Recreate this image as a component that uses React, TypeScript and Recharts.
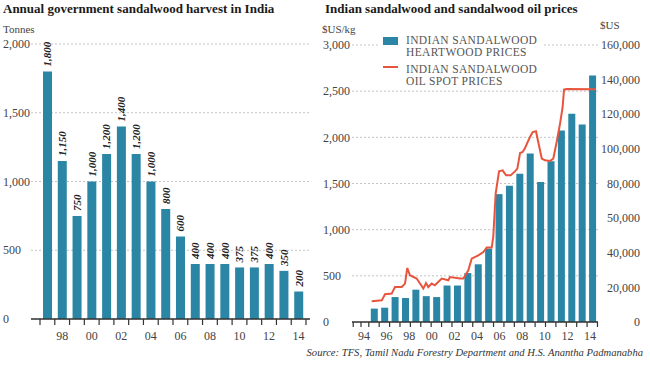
import React from 'react';
import {
  Bar,
  BarChart,
  CartesianGrid,
  ComposedChart,
  LabelList,
  Line,
  XAxis,
  YAxis,
} from 'recharts';

// Left: annual harvest (tonnes)
const HARVEST_YEARS = [
  1997, 1998, 1999, 2000, 2001, 2002, 2003, 2004, 2005, 2006, 2007, 2008, 2009, 2010, 2011, 2012, 2013, 2014,
];
const HARVEST_TONNES = [1800, 1150, 750, 1000, 1200, 1400, 1200, 1000, 800, 600, 400, 400, 400, 375, 375, 400, 350, 200];
const HARVEST_TICKS = [0, 500, 1000, 1500, 2000];
const HARVEST_LABEL_YEARS = [1998, 2000, 2002, 2004, 2006, 2008, 2010, 2012, 2014];

// Right: heartwood prices ($US/kg) and oil spot prices ($US)
const HEARTWOOD_YEARS = [
  1993, 1994, 1995, 1996, 1997, 1998, 1999, 2000, 2001, 2002, 2003, 2004, 2005, 2006, 2007, 2008, 2009, 2010,
  2011, 2012, 2013, 2014,
];
const HEARTWOOD_PRICES = [
  145, 155, 270, 260, 350, 280, 270, 395, 395, 530, 625, 795, 1385, 1475, 1605, 1825, 1515, 1740, 2075, 2255, 2140,
  2670,
];
const OIL_DATES = [
  1994.68, 1995.57, 1995.86, 1996.45, 1996.74, 1997.34, 1997.63, 1997.83, 1998.07, 1998.66, 1999.25, 1999.49,
  1999.69, 1999.99, 2000.27, 2000.88, 2001.46, 2001.61, 2002.5, 2002.79, 2003.23, 2003.53, 2004.12, 2004.56,
  2004.86, 2005.3, 2005.44, 2005.65, 2005.95, 2006.27, 2006.57, 2006.98, 2007.36, 2007.57, 2007.81, 2008.04,
  2008.25, 2008.69, 2008.93, 2009.22, 2009.42, 2009.73, 2010.02, 2010.46, 2010.75, 2011.05, 2011.35, 2011.58,
  2011.7, 2011.94, 2014.53,
];
const OIL_PRICES = [
  12000, 12500, 16000, 16400, 20200, 20200, 22200, 31200, 27000, 25100, 19300, 22500, 20200, 22200, 21200, 25100,
  24100, 26000, 25100, 25100, 29900, 36600, 38500, 40400, 43000, 43000, 49100, 74200, 87000, 87600, 84700, 84700,
  87000, 88600, 97600, 98200, 100500, 106900, 109700, 110200, 104000, 94400, 93400, 93000, 94400, 104000, 114600,
  124200, 134200, 134600, 134400,
];
const PRICE_TICKS = [0, 500, 1000, 1500, 2000, 2500, 3000];
const OIL_TICKS = [0, 20000, 40000, 60000, 80000, 100000, 120000, 140000, 160000];
const OIL_TICK_LABELS = ['0', '20,000', '40,000', '50,000', '80,000', '100,000', '120,000', '140,000', '160,000'];
const PRICE_LABEL_YEARS = [1994, 1996, 1998, 2000, 2002, 2004, 2006, 2008, 2010, 2012, 2014];

const FONT = '"Liberation Serif", "Times New Roman", serif';
const BAR_COLOR = '#2b86a6';
const LINE_COLOR = '#e8553e';
const TEXT = '#444';
const AXIS = '#333';

const harvestData = HARVEST_YEARS.map((year, i) => ({ year, tonnes: HARVEST_TONNES[i] }));
const harvestTicks = [
  ...HARVEST_YEARS.map((y) => y - 0.5),
  HARVEST_YEARS[HARVEST_YEARS.length - 1] + 0.5,
  ...HARVEST_LABEL_YEARS,
];

const heartwoodData = HEARTWOOD_YEARS.map((year, i) => ({ year, heartwood: HEARTWOOD_PRICES[i] }));
const heartwoodTicks = [
  1991,
  1991.75,
  ...HEARTWOOD_YEARS.map((y) => y - 0.5),
  HEARTWOOD_YEARS[HEARTWOOD_YEARS.length - 1] + 0.5,
];
const oilData = OIL_DATES.map((date, i) => ({ date, oil: OIL_PRICES[i] }));

const fmt = (v: number) => v.toLocaleString('en-US');
const yy = (v: number) => String(v).slice(2);

const HarvestXTick = (props: any) => {
  const { x, y, payload } = props;
  const v = payload.value;
  if (Number.isInteger(v)) {
    return (
      <text x={x} y={y + 16.5} dy="0.35em" textAnchor="middle" fontSize={12} fill={TEXT} fontFamily={FONT}>
        {yy(v)}
      </text>
    );
  }
  return <line x1={x} x2={x} y1={y} y2={y + 6} stroke={AXIS} strokeWidth={1.2} />;
};

const BoundaryTick = (props: any) => {
  const { x, y } = props;
  return <line x1={x} x2={x} y1={y} y2={y + 5} stroke={AXIS} strokeWidth={1.2} />;
};

const TimeTick = (props: any) => {
  const { x, y, payload } = props;
  return (
    <text x={x} y={y + 12.5} dy="0.35em" textAnchor="middle" fontSize={12} fill={TEXT} fontFamily={FONT}>
      {yy(payload.value)}
    </text>
  );
};

const LeftYTick = (xPos: number) => (props: any) => {
  const { y, payload } = props;
  return (
    <text x={xPos} y={y} dy="0.35em" textAnchor="start" fontSize={12} fill={TEXT} fontFamily={FONT}>
      {fmt(payload.value)}
    </text>
  );
};

const OilYTick = (props: any) => {
  const { y, payload } = props;
  const label = OIL_TICK_LABELS[OIL_TICKS.indexOf(payload.value)];
  return (
    <text x={325} y={y} dy="0.35em" textAnchor="end" fontSize={12} fill={TEXT} fontFamily={FONT}>
      {label}
    </text>
  );
};

const RotatedValue = (props: any) => {
  const { x, y, width, value } = props;
  const cx = x + width / 2;
  const ty = y - 5;
  return (
    <text
      x={cx}
      y={ty}
      dy="0.35em"
      transform={`rotate(-90 ${cx} ${ty})`}
      textAnchor="start"
      fontSize={11}
      fontWeight="bold"
      fontStyle="italic"
      fill="#222"
      fontFamily={FONT}
    >
      {fmt(value)}
    </text>
  );
};

const abs = (style: React.CSSProperties): React.CSSProperties => ({ position: 'absolute', whiteSpace: 'nowrap', ...style });

export default function App() {
  return (
    <div
      style={{
        position: 'absolute',
        left: 0,
        top: 0,
        width: 650,
        height: 366,
        background: '#fff',
        overflow: 'hidden',
        fontFamily: FONT,
        color: TEXT,
      }}
    >
      <div style={abs({ left: 0, top: 0 })}>
        <BarChart width={315} height={366} data={harvestData} margin={{ top: 44, right: 5, left: 0, bottom: 0 }}>
          <CartesianGrid vertical={false} strokeDasharray="2 2" stroke="#c4c4c4" />
          <XAxis
            dataKey="year"
            type="number"
            domain={[1995.891, 2014.771]}
            ticks={harvestTicks}
            interval={0}
            height={47}
            tickSize={0}
            tickMargin={0}
            tickLine={false}
            axisLine={{ stroke: AXIS, strokeWidth: 1.5 }}
            tick={<HarvestXTick />}
          />
          <YAxis
            domain={[0, 2000]}
            ticks={HARVEST_TICKS}
            width={31}
            axisLine={false}
            tickLine={false}
            tick={LeftYTick(3)}
          />
          <Bar dataKey="tonnes" fill={BAR_COLOR} barSize={9} isAnimationActive={false}>
            <LabelList dataKey="tonnes" content={<RotatedValue />} />
          </Bar>
        </BarChart>
      </div>

      <div style={abs({ left: 315, top: 0 })}>
        <ComposedChart width={335} height={366} data={heartwoodData} margin={{ top: 45, right: 0, left: 0, bottom: 0 }}>
          <CartesianGrid xAxisId="bars" yAxisId="price" vertical={false} strokeDasharray="2 2" stroke="#c4c4c4" />
          <XAxis
            xAxisId="bars"
            dataKey="year"
            type="number"
            domain={[1990.884, 2014.55]}
            ticks={heartwoodTicks}
            interval={0}
            height={1}
            tickSize={0}
            tickMargin={0}
            tickLine={false}
            axisLine={{ stroke: AXIS, strokeWidth: 1.5 }}
            tick={<BoundaryTick />}
          />
          <XAxis
            xAxisId="time"
            dataKey="date"
            type="number"
            domain={[1992.938, 2014.708]}
            ticks={PRICE_LABEL_YEARS}
            interval={0}
            height={43}
            tickSize={0}
            tickMargin={0}
            tickLine={false}
            axisLine={false}
            tick={<TimeTick />}
          />
          <YAxis
            yAxisId="price"
            domain={[0, 3000]}
            ticks={PRICE_TICKS}
            width={37}
            axisLine={false}
            tickLine={false}
            tick={LeftYTick(8)}
          />
          <YAxis
            yAxisId="oil"
            orientation="right"
            domain={[0, 160000]}
            ticks={OIL_TICKS}
            width={52}
            axisLine={false}
            tickLine={false}
            tick={<OilYTick />}
          />
          <Bar
            xAxisId="bars"
            yAxisId="price"
            dataKey="heartwood"
            fill={BAR_COLOR}
            barSize={7}
            isAnimationActive={false}
          />
          <Line
            xAxisId="time"
            yAxisId="oil"
            data={oilData}
            dataKey="oil"
            type="linear"
            stroke={LINE_COLOR}
            strokeWidth={2}
            dot={false}
            isAnimationActive={false}
          />
        </ComposedChart>
      </div>

      <div style={abs({ left: 3, top: 0, fontSize: 13, fontWeight: 'bold', lineHeight: '17px', color: '#1a1a1a' })}>
        Annual government sandalwood harvest in India
      </div>
      <div style={abs({ left: 325, top: 0, fontSize: 13, fontWeight: 'bold', lineHeight: '17px', color: '#1a1a1a' })}>
        Indian sandalwood and sandalwood oil prices
      </div>
      <div style={abs({ left: 3, top: 22, fontSize: 11, lineHeight: '14px' })}>Tonnes</div>
      <div style={abs({ left: 322, top: 22, fontSize: 11, lineHeight: '14px' })}>$US/kg</div>
      <div style={abs({ left: 600, top: 18, fontSize: 11, lineHeight: '14px' })}>$US</div>

      <div style={abs({ left: 378, top: 33, width: 166, height: 54, background: '#fff' })} />
      <div style={abs({ left: 383, top: 37, width: 14.5, height: 7.5, background: BAR_COLOR })} />
      <div style={abs({ left: 383, top: 66, width: 14.5, height: 2.2, background: LINE_COLOR })} />
      <div
        style={abs({ left: 406, top: 35.2, fontSize: 11.5, lineHeight: '11.7px', letterSpacing: 0.35, color: '#555' })}
      >
        INDIAN SANDALWOOD
        <br />
        HEARTWOOD PRICES
      </div>
      <div
        style={abs({ left: 406, top: 64.2, fontSize: 11.5, lineHeight: '11.7px', letterSpacing: 0.35, color: '#555' })}
      >
        INDIAN SANDALWOOD
        <br />
        OIL SPOT PRICES
      </div>

      <div style={abs({ right: 7, top: 346, fontSize: 10.6, fontStyle: 'italic', lineHeight: '14px', color: '#333' })}>
        Source: TFS, Tamil Nadu Forestry Department and H.S. Anantha Padmanabha
      </div>
    </div>
  );
}
